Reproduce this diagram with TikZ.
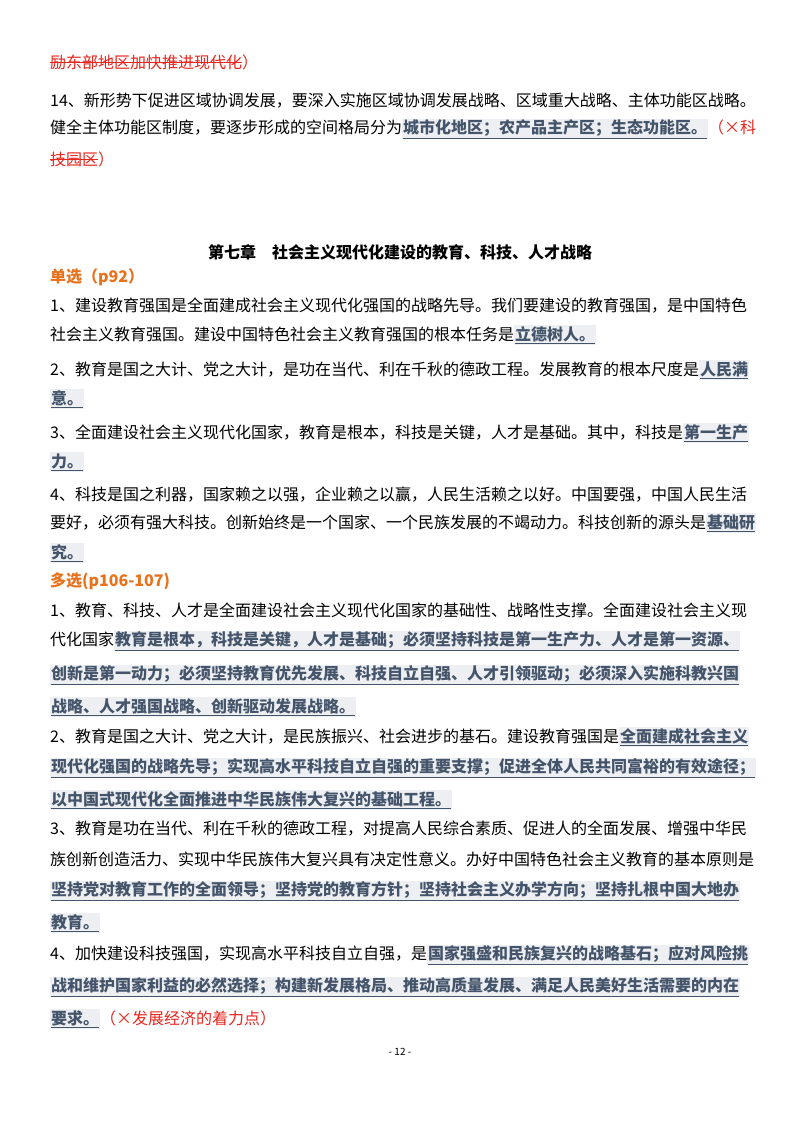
\documentclass[tikz,border=0pt]{standalone}
\usepackage{fontspec}
\setmainfont{Noto Sans CJK SC}
\definecolor{redc}{HTML}{E8261E}
\definecolor{orc}{HTML}{E8711C}
\definecolor{hlfg}{HTML}{44546A}
\definecolor{hlbg}{HTML}{EDEFF2}
\newcommand{\hlx}[1]{{\setlength{\fboxsep}{1pt}\colorbox{hlbg}{\color{hlfg}\bfseries\underline{#1}}}}
\newcommand{\rs}[1]{\textcolor{redc}{\setbox0\hbox{#1}\rlap{\rule[0.3em]{\wd0}{0.8pt}}\box0}}
\newcommand{\rd}[1]{\textcolor{redc}{#1}}
\tikzset{ln/.style={anchor=west,inner sep=0pt,font=\fontsize{16}{18}\selectfont}}
\begin{document}
\begin{tikzpicture}[x=1pt,y=-1pt]
\useasboundingbox[fill=white] (0,0) rectangle (800,1132);
\node[ln] (l1) at (50,62) {\rs{励东部地区加快推进现代化}\rd{）}};
\node[ln] (l2) at (50,101) {14、新形势下促进区域协调发展，要深入实施区域协调发展战略、区域重大战略、主体功能区战略。};
\node[ln] (l3) at (50,129) {健全主体功能区制度，要逐步形成的空间格局分为\hlx{城市化地区；农产品主产区；生态功能区。}\rd{（×科}};
\node[ln] (l4) at (50,159) {\rs{技园区}\rd{）}};
\node[ln,anchor=center] (t) at (400,252) {\bfseries 第七章\quad 社会主义现代化建设的教育、科技、人才战略};
\node[ln] (h1) at (50,277) {\textcolor{orc}{\bfseries 单选（p92）}};
\node[ln] (a1) at (50,306) {1、建设教育强国是全面建成社会主义现代化强国的战略先导。我们要建设的教育强国，是中国特色};
\node[ln] (a2) at (50,335) {社会主义教育强国。建设中国特色社会主义教育强国的根本任务是\hlx{立德树人。}};
\node[ln] (a3) at (50,370) {2、教育是国之大计、党之大计，是功在当代、利在千秋的德政工程。发展教育的根本尺度是\hlx{人民满}};
\node[ln] (a4) at (50,399) {\hlx{意。}};
\node[ln] (a5) at (50,433) {3、全面建设社会主义现代化国家，教育是根本，科技是关键，人才是基础。其中，科技是\hlx{第一生产}};
\node[ln] (a6) at (50,462) {\hlx{力。}};
\node[ln] (a7) at (50,495) {4、科技是国之利器，国家赖之以强，企业赖之以赢，人民生活赖之以好。中国要强，中国人民生活};
\node[ln] (a8) at (50,523) {要好，必须有强大科技。创新始终是一个国家、一个民族发展的不竭动力。科技创新的源头是\hlx{基础研}};
\node[ln] (a9) at (50,553) {\hlx{究。}};
\node[ln] (h2) at (50,581) {\textcolor{orc}{\bfseries 多选(p106-107)}};
\node[ln] (b1) at (50,610) {1、教育、科技、人才是全面建设社会主义现代化国家的基础性、战略性支撑。全面建设社会主义现};
\node[ln] (b2) at (50,641) {代化国家\hlx{教育是根本，科技是关键，人才是基础；必须坚持科技是第一生产力、人才是第一资源、}};
\node[ln] (b3) at (50,675) {\hlx{创新是第一动力；必须坚持教育优先发展、科技自立自强、人才引领驱动；必须深入实施科教兴国}};
\node[ln] (b4) at (50,707) {\hlx{战略、人才强国战略、创新驱动发展战略。}};
\node[ln] (b5) at (50,737) {2、教育是国之大计、党之大计，是民族振兴、社会进步的基石。建设教育强国是\hlx{全面建成社会主义}};
\node[ln] (b6) at (50,768) {\hlx{现代化强国的战略先导；实现高水平科技自立自强的重要支撑；促进全体人民共同富裕的有效途径；}};
\node[ln] (b7) at (50,800) {\hlx{以中国式现代化全面推进中华民族伟大复兴的基础工程。}};
\node[ln] (b8) at (50,829) {3、教育是功在当代、利在千秋的德政工程，对提高人民综合素质、促进人的全面发展、增强中华民};
\node[ln] (b9) at (50,859) {族创新创造活力、实现中华民族伟大复兴具有决定性意义。办好中国特色社会主义教育的基本原则是};
\node[ln] (b10) at (50,891) {\hlx{坚持党对教育工作的全面领导；坚持党的教育方针；坚持社会主义办学方向；坚持扎根中国大地办}};
\node[ln] (b11) at (50,923) {\hlx{教育。}};
\node[ln] (b12) at (50,955) {4、加快建设科技强国，实现高水平科技自立自强，是\hlx{国家强盛和民族复兴的战略基石；应对风险挑}};
\node[ln] (b13) at (50,987) {\hlx{战和维护国家利益的必然选择；构建新发展格局、推动高质量发展、满足人民美好生活需要的内在}};
\node[ln] (b14) at (50,1019) {\hlx{要求。}\rd{（×发展经济的着力点）}};
\node[ln,anchor=center,font=\fontsize{10}{12}\selectfont] (pg) at (400,1052) {- 12 -};
\end{tikzpicture}
\end{document}
